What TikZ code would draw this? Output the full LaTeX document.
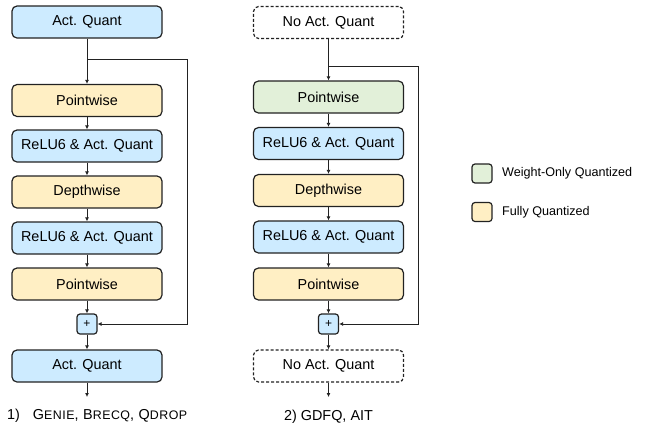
\documentclass[tikz,border=0pt]{standalone}
\usepackage{fontspec}
\setmainfont{Liberation Sans}
\newfontfamily\spacedfont[LetterSpace=4]{Liberation Sans}
\usetikzlibrary{arrows.meta}
\definecolor{actblue}{HTML}{CDEBFF}
\definecolor{fullyel}{HTML}{FFEFC4}
\definecolor{wgtgreen}{HTML}{E2F0D9}
\definecolor{edge}{HTML}{222222}
\newcommand{\smc}[1]{{\fontsize{12.4}{13}\selectfont #1}}
\tikzset{
  blk/.style={draw=edge, line width=1.2pt, rounded corners=5pt, minimum width=150pt,
    minimum height=32pt, inner sep=0pt, font=\fontsize{14.4}{16}\selectfont},
  quant/.style={blk, fill=actblue},
  full/.style={blk, fill=fullyel},
  wonly/.style={blk, fill=wgtgreen},
  noquant/.style={blk, fill=white, dashed, dash pattern=on 3pt off 2pt},
  addbox/.style={draw=edge, line width=1.2pt, rounded corners=3pt, fill=actblue,
    minimum width=20pt, minimum height=20pt, inner sep=0pt, font=\fontsize{12}{12}\selectfont},
  legbox/.style={draw=edge, line width=1.2pt, rounded corners=3pt,
    minimum width=20pt, minimum height=19pt, inner sep=0pt},
  legtxt/.style={anchor=west, font=\fontsize{12.6}{14}\selectfont, inner sep=0pt},
  flow/.style={draw=edge, line width=1pt, -{Latex[length=4pt,width=4pt]}},
  captext/.style={font=\fontsize{14.4}{16}\selectfont, inner sep=0pt}
}
\begin{document}
\begin{tikzpicture}[x=1pt, y=-1pt]
\useasboundingbox (0,0) rectangle (650,429);

% ---- left block: every activation quantized ----
\node[quant] (l0) at (87,22)   {Act. Quant};
\node[full]  (l1) at (87,100.5) {Pointwise};
\node[quant] (l2) at (87,146)  {ReLU6 \& Act. Quant};
\node[full]  (l3) at (87,192)  {Depthwise};
\node[quant] (l4) at (87,238)  {ReLU6 \& Act. Quant};
\node[full]  (l5) at (87,284)  {Pointwise};
\node[addbox] (ladd) at (87,324) {+};
\node[quant] (l6) at (87,366)  {Act. Quant};
\coordinate (lsplit) at (87,59.5);
\coordinate (lout) at (87,397);
\coordinate (lr1) at (187,59.5);
\coordinate (lr2) at (187,324);

\draw[flow] (l0) -- (l1);
\draw[flow] (l1) -- (l2);
\draw[flow] (l2) -- (l3);
\draw[flow] (l3) -- (l4);
\draw[flow] (l4) -- (l5);
\draw[flow] (l5) -- (ladd);
\draw[flow] (ladd) -- (l6);
\draw[flow] (l6) -- (lout);
\draw[flow] (lsplit) -- (lr1) -- (lr2) -- (ladd.east);

\node[captext, anchor=west] (lcap) at (7,416)
  {1)\hspace{13pt}{\spacedfont G\smc{ENIE}, B\smc{RECQ}, Q\smc{DROP}}};

% ---- right block: block input/output left unquantized ----
\node[noquant] (r0) at (328.5,22.5) {No Act. Quant};
\node[wonly]   (r1) at (328.5,97)   {Pointwise};
\node[quant]   (r2) at (328.5,143.5) {ReLU6 \& Act. Quant};
\node[full]    (r3) at (328.5,190.5) {Depthwise};
\node[quant]   (r4) at (328.5,237)  {ReLU6 \& Act. Quant};
\node[full]    (r5) at (328.5,284)  {Pointwise};
\node[addbox]  (radd) at (328.5,324) {+};
\node[noquant] (r6) at (328.5,366)  {No Act. Quant};
\coordinate (rsplit) at (328.5,66);
\coordinate (rout) at (328.5,397);
\coordinate (rr1) at (418,66);
\coordinate (rr2) at (418,324);

\draw[flow] (r0) -- (r1);
\draw[flow] (r1) -- (r2);
\draw[flow] (r2) -- (r3);
\draw[flow] (r3) -- (r4);
\draw[flow] (r4) -- (r5);
\draw[flow] (r5) -- (radd);
\draw[flow] (radd) -- (r6);
\draw[flow] (r6) -- (rout);
\draw[flow] (rsplit) -- (rr1) -- (rr2) -- (radd.east);

\node[captext] (rcap) at (328.5,417) {2) GDFQ, AIT};

% ---- legend ----
\node[legbox, fill=wgtgreen] (kw) at (482,173.5) {};
\node[legtxt] (kwt) at (502,173.5) {Weight-Only Quantized};
\node[legbox, fill=fullyel] (kf) at (482,212) {};
\node[legtxt] (kft) at (502,212) {Fully Quantized};
\end{tikzpicture}
\end{document}
